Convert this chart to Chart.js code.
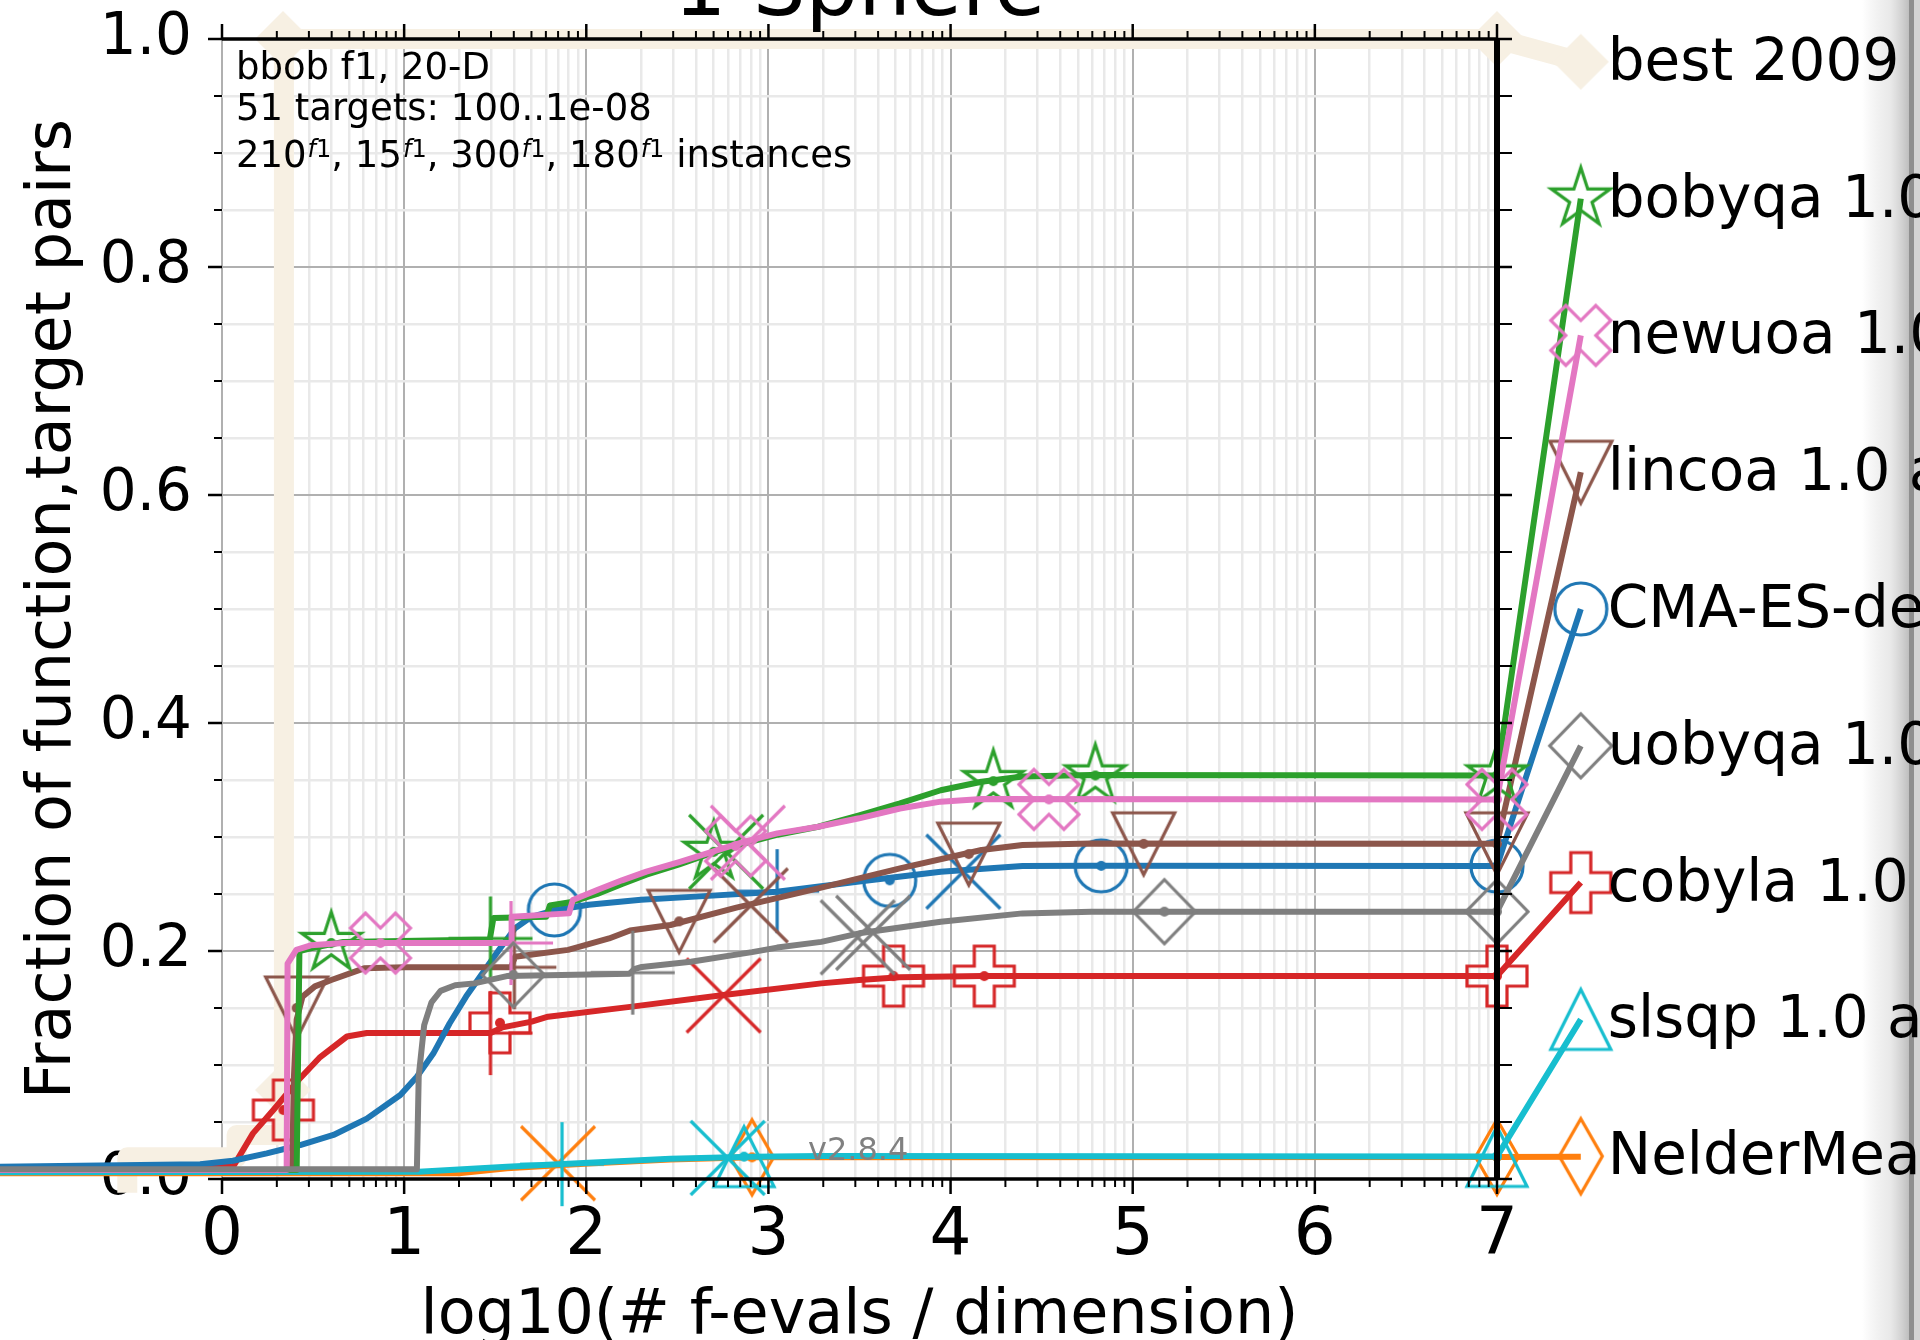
<!DOCTYPE html>
<html>
<head>
<meta charset="utf-8">
<script src="https://cdn.jsdelivr.net/npm/chart.js@4.4.1/dist/chart.umd.min.js"></script>
<style>
  html, body { margin: 0; padding: 0; background: #fff; }
  #ecdf { display: block; }
</style>
</head>
<body>
<canvas id="ecdf" width="1920" height="1340"></canvas>
<script>
// ---- data (x = log10(#f-evals / dimension), y = fraction) ----
const labels = ['best 2009', 'bobyqa 1.0 a', 'newuoa 1.0 a', 'lincoa 1.0 a', 'CMA-ES-default',
                'uobyqa 1.0 a', 'cobyla 1.0 a', 'slsqp 1.0 a', 'NelderMead 1.0 a'];
const legendX = 7.46;
const legendY = [0.98, 0.86, 0.74, 0.62, 0.50, 0.38, 0.26, 0.14, 0.02];

const bestX = [-0.52, -0.52, 0.08, 0.08, 0.34, 0.34, 7.0, legendX];
const bestY = [-0.012, 0.019, 0.019, 0.0386, 0.0386, 1.0, 1.0, 0.98];
const bestMarkX = [0.335, 0.335, 7.0];
const bestMarkY = [0.078, 1.0, 1.0];

const bobyqaX = [-1.3, 0.41, 0.425, 0.487, 0.666, 1.47, 1.49, 1.78, 1.80, 1.92, 2.06, 2.2, 2.33, 2.51, 2.69, 2.87, 3.05, 3.273, 3.498, 3.722, 3.946, 4.17, 4.395, 4.77, 7.0, legendX];
const bobyqaY = [0.008, 0.008, 0.2, 0.2023, 0.208, 0.21, 0.229, 0.23, 0.24, 0.243, 0.25, 0.259, 0.267, 0.276, 0.286, 0.2944, 0.302, 0.309, 0.319, 0.3295, 0.341, 0.3485, 0.353, 0.3544, 0.354, 0.86];
const bobyqaMarkX = [0.60, 2.70, 4.235, 4.795, 7.0];
const bobyqaMarkY = [0.207, 0.287, 0.349, 0.354, 0.354];
const bobyqaCrossX = [2.768], bobyqaCrossY = [0.287];
const bobyqaPlusX = [1.474], bobyqaPlusY = [0.211];

const newuoaX = [-1.3, 0.355, 0.36, 0.408, 0.487, 0.666, 1.587, 1.59, 1.905, 1.926, 2.06, 2.196, 2.33, 2.51, 2.69, 2.869, 3.048, 3.273, 3.498, 3.722, 3.946, 4.17, 7.0, legendX];
const newuoaY = [0.008, 0.008, 0.189, 0.2009, 0.205, 0.207, 0.207, 0.23, 0.233, 0.2447, 0.2535, 0.262, 0.2696, 0.278, 0.287, 0.296, 0.3032, 0.309, 0.3164, 0.325, 0.331, 0.3333, 0.333, 0.74];
const newuoaMarkX = [0.87, 2.82, 4.54, 7.0];
const newuoaMarkY = [0.207, 0.292, 0.333, 0.333];
const newuoaCrossX = [2.887], newuoaCrossY = [0.295];
const newuoaPlusX = [1.587], newuoaPlusY = [0.207];

const lincoaX = [-1.3, 0.385, 0.395, 0.41, 0.442, 0.51, 0.6, 0.78, 1.0, 1.587, 1.609, 1.90, 1.93, 2.125, 2.24, 2.462, 2.824, 3.273, 3.722, 4.17, 4.395, 4.772, 7.0, legendX];
const lincoaY = [0.008, 0.008, 0.09, 0.14, 0.16, 0.169, 0.1746, 0.1848, 0.1857, 0.1857, 0.195, 0.201, 0.2023, 0.211, 0.218, 0.2228, 0.238, 0.255, 0.2725, 0.2886, 0.293, 0.2944, 0.294, 0.62];
const lincoaMarkX = [0.41, 2.51, 4.10, 5.06, 7.0];
const lincoaMarkY = [0.15, 0.226, 0.285, 0.294, 0.294];
const lincoaCrossX = [2.903], lincoaCrossY = [0.240];
const lincoaPlusX = [1.605], lincoaPlusY = [0.1857];

const cmaX = [-1.3, -0.12, 0.06, 0.246, 0.429, 0.612, 0.795, 0.979, 1.07, 1.16, 1.25, 1.34, 1.43, 1.52, 1.609, 1.699, 1.833, 2.013, 2.3, 2.6, 3.048, 3.498, 3.946, 4.395, 4.77, 7.0, legendX];
const cmaY = [0.0105, 0.013, 0.016, 0.0225, 0.0298, 0.0386, 0.053, 0.0737, 0.0897, 0.110, 0.1366, 0.160, 0.1804, 0.2009, 0.22, 0.230, 0.236, 0.2405, 0.245, 0.2477, 0.252, 0.261, 0.2696, 0.2745, 0.2748, 0.2745, 0.50];
const cmaMarkX = [1.825, 3.666, 4.827, 7.0];
const cmaMarkY = [0.236, 0.262, 0.2747, 0.2745];
const cmaCrossX = [4.07], cmaCrossY = [0.2696];
const cmaPlusX = [3.048], cmaPlusY = [0.2525];

const uobyqaX = [-1.3, 1.07, 1.08, 1.11, 1.15, 1.2, 1.28, 1.385, 1.564, 2.237, 2.263, 2.305, 2.574, 2.91, 3.048, 3.29, 3.498, 3.946, 4.395, 4.772, 7.0, legendX];
const uobyqaY = [0.0085, 0.0085, 0.09, 0.135, 0.155, 0.165, 0.17, 0.1716, 0.178, 0.18, 0.184, 0.186, 0.1906, 0.199, 0.203, 0.208, 0.2155, 0.2257, 0.233, 0.2345, 0.2345, 0.38];
const uobyqaMarkX = [1.60, 5.174, 7.0];
const uobyqaMarkY = [0.179, 0.2345, 0.2345];
const uobyqaCrossX = [3.49, 3.575], uobyqaCrossY = [0.212, 0.216];
const uobyqaPlusX = [2.255], uobyqaPlusY = [0.181];

const cobylaX = [-1.3, 0.06, 0.17, 0.282, 0.42, 0.539, 0.686, 0.795, 1.474, 1.54, 1.70, 1.79, 2.24, 2.754, 3.29, 3.498, 3.72, 4.17, 7.0, legendX];
const cobylaY = [0.0105, 0.0105, 0.040, 0.0605, 0.0868, 0.107, 0.125, 0.128, 0.128, 0.133, 0.138, 0.1424, 0.151, 0.1614, 0.1716, 0.1746, 0.177, 0.178, 0.178, 0.26];
const cobylaMarkX = [0.337, 1.526, 3.687, 4.185, 7.0];
const cobylaMarkY = [0.0605, 0.137, 0.178, 0.178, 0.178];
const cobylaCrossX = [2.754], cobylaCrossY = [0.161];
const cobylaPlusX = [1.474], cobylaPlusY = [0.128];

const slsqpX = [-1.3, 1.082, 1.564, 2.013, 2.462, 2.91, 3.29, 7.0, legendX];
const slsqpY = [0.006, 0.0064, 0.0108, 0.0143, 0.0178, 0.0196, 0.0202, 0.0198, 0.14];
const slsqpMarkX = [2.866, 7.0];
const slsqpMarkY = [0.0196, 0.0198];
const slsqpCrossX = [2.776], slsqpCrossY = [0.0185];
const slsqpPlusX = [1.867], slsqpPlusY = [0.013];

const nelderX = [-1.3, 1.3, 1.564, 2.013, 2.462, 2.91, 7.0, legendX];
const nelderY = [0.005, 0.005, 0.0095, 0.0135, 0.0172, 0.019, 0.0194, 0.0196];
const nelderMarkX = [2.91, 7.0];
const nelderMarkY = [0.019, 0.0194];
const nelderCrossX = [1.845], nelderCrossY = [0.0138];
const nelderPlusX = [], nelderPlusY = [];

// ticks
const xTickVals = [];
for (let d = 0; d < 7; d++) {
  xTickVals.push(d);
  for (let k = 2; k <= 9; k++) xTickVals.push(d + Math.log10(k));
}
xTickVals.push(7);
const yTickVals = [];
for (let k = 0; k <= 20; k++) yTickVals.push(k * 5 / 100);

const isMajorX = v => Math.abs(v - Math.round(v)) < 1e-9;
const isMajorY = v => Math.round(v * 20) % 4 === 0;

// ---- markers ----
function makeMarker(kind, color, dot) {
  const c = document.createElement('canvas');
  c.width = 100; c.height = 100;
  const g = c.getContext('2d');
  g.translate(50, 50);
  g.strokeStyle = color; g.fillStyle = color; g.lineWidth = 3.2; g.lineJoin = 'miter';
  const poly = pts => {
    g.beginPath();
    pts.forEach(([x, y], i) => i ? g.lineTo(x, y) : g.moveTo(x, y));
    g.closePath();
  };
  const plusPts = s => [[-1,-3],[1,-3],[1,-1],[3,-1],[3,1],[1,1],[1,3],[-1,3],[-1,1],[-3,1],[-3,-1],[-1,-1]]
    .map(([x, y]) => [x * s, y * s]);
  if (kind === 'star') {
    const p = [];
    for (let i = 0; i < 10; i++) {
      const r = i % 2 ? 11.8 : 31;
      const a = -Math.PI / 2 + i * Math.PI / 5;
      p.push([r * Math.cos(a), r * Math.sin(a)]);
    }
    poly(p); g.stroke();
  } else if (kind === 'fatx') {
    const k = Math.SQRT1_2;
    poly(plusPts(10.6).map(([x, y]) => [(x - y) * k, (x + y) * k])); g.stroke();
  } else if (kind === 'fatplus') {
    poly(plusPts(10)); g.stroke();
  } else if (kind === 'tridown') {
    poly([[0, 31], [-31, -31], [31, -31]]); g.stroke();
  } else if (kind === 'triup') {
    poly([[0, -30], [-30, 30], [30, 30]]); g.stroke();
  } else if (kind === 'circle') {
    g.beginPath(); g.arc(0, 0, 26, 0, Math.PI * 2); g.stroke();
  } else if (kind === 'diamond') {
    poly([[0, -32], [31, 0], [0, 32], [-31, 0]]); g.stroke();
  } else if (kind === 'thindiamond') {
    poly([[0, -37.5], [21.5, 0], [0, 37.5], [-21.5, 0]]); g.stroke();
  } else if (kind === 'bestdiamond') {
    poly([[0, -28], [28, 0], [0, 28], [-28, 0]]); g.fill();
  } else if (kind === 'x') {
    g.beginPath(); g.moveTo(-37, -37); g.lineTo(37, 37); g.moveTo(-37, 37); g.lineTo(37, -37); g.stroke();
  } else if (kind === 'plus') {
    g.beginPath(); g.moveTo(-42, 0); g.lineTo(42, 0); g.moveTo(0, -42); g.lineTo(0, 42); g.stroke();
  }
  if (dot) { g.beginPath(); g.arc(0, 0, 5, 0, Math.PI * 2); g.fill(); }
  return c;
}

const zip = (xs, ys) => xs.map((x, i) => ({ x, y: ys[i] }));

// bottom -> top drawing sequence
const series = [
  { color: '#ff7f0e', shape: 'thindiamond', li: 8, x: nelderX, y: nelderY, mx: nelderMarkX, my: nelderMarkY, cx: nelderCrossX, cy: nelderCrossY, px: nelderPlusX, py: nelderPlusY },
  { color: '#17becf', shape: 'triup', li: 7, x: slsqpX, y: slsqpY, mx: slsqpMarkX, my: slsqpMarkY, cx: slsqpCrossX, cy: slsqpCrossY, px: slsqpPlusX, py: slsqpPlusY },
  { color: '#d62728', shape: 'fatplus', li: 6, x: cobylaX, y: cobylaY, mx: cobylaMarkX, my: cobylaMarkY, cx: cobylaCrossX, cy: cobylaCrossY, px: cobylaPlusX, py: cobylaPlusY },
  { color: '#1f77b4', shape: 'circle', li: 4, x: cmaX, y: cmaY, mx: cmaMarkX, my: cmaMarkY, cx: cmaCrossX, cy: cmaCrossY, px: cmaPlusX, py: cmaPlusY },
  { color: '#8c564b', shape: 'tridown', li: 3, x: lincoaX, y: lincoaY, mx: lincoaMarkX, my: lincoaMarkY, cx: lincoaCrossX, cy: lincoaCrossY, px: lincoaPlusX, py: lincoaPlusY },
  { color: '#2ca02c', shape: 'star', li: 1, x: bobyqaX, y: bobyqaY, mx: bobyqaMarkX, my: bobyqaMarkY, cx: bobyqaCrossX, cy: bobyqaCrossY, px: bobyqaPlusX, py: bobyqaPlusY },
  { color: '#e377c2', shape: 'fatx', li: 2, x: newuoaX, y: newuoaY, mx: newuoaMarkX, my: newuoaMarkY, cx: newuoaCrossX, cy: newuoaCrossY, px: newuoaPlusX, py: newuoaPlusY },
  { color: '#7f7f7f', shape: 'diamond', li: 5, x: uobyqaX, y: uobyqaY, mx: uobyqaMarkX, my: uobyqaMarkY, cx: uobyqaCrossX, cy: uobyqaCrossY, px: uobyqaPlusX, py: uobyqaPlusY }
];

const BEST = '#f7f0e3';
const datasets = [];
datasets.push({
  data: zip(bestX, bestY), showLine: true, borderColor: BEST, borderWidth: 20,
  pointRadius: 0, borderJoinStyle: 'round', clip: false
});
const bestStyle = makeMarker('bestdiamond', BEST, false);
datasets.push({
  data: zip(bestMarkX.concat([legendX]), bestMarkY.concat([legendY[0]])), showLine: false,
  pointStyle: bestStyle, pointRadius: 120, clip: false
});

series.forEach(s => {
  datasets.push({
    data: zip(s.x, s.y), showLine: true, borderColor: s.color, borderWidth: 6,
    pointRadius: 0, borderJoinStyle: 'round', clip: false
  });
  const onCurve = makeMarker(s.shape, s.color, true);
  const inLegend = makeMarker(s.shape, s.color, false);
  const cross = makeMarker('x', s.color, false);
  const plus = makeMarker('plus', s.color, false);
  const pts = [], styles = [];
  zip(s.mx, s.my).forEach(p => { pts.push(p); styles.push(onCurve); });
  pts.push({ x: legendX, y: legendY[s.li] }); styles.push(inLegend);
  zip(s.cx, s.cy).forEach(p => { pts.push(p); styles.push(cross); });
  zip(s.px, s.py).forEach(p => { pts.push(p); styles.push(plus); });
  datasets.push({ data: pts, showLine: false, pointStyle: styles, pointRadius: 120, clip: false });
});
datasets.forEach((d, i) => { d.order = datasets.length - i; });

const FONT = '"DejaVu Sans"';

const decor = {
  id: 'decor',
  beforeDraw(chart) {
    const ctx = chart.ctx;
    ctx.save();
    ctx.fillStyle = '#fff';
    ctx.fillRect(0, 0, chart.width, chart.height);
    const gr = ctx.createLinearGradient(1862, 0, 1909, 0);
    gr.addColorStop(0, 'rgba(205,205,205,0)');
    gr.addColorStop(0.6, 'rgba(215,215,215,0.55)');
    gr.addColorStop(1, 'rgb(190,190,190)');
    ctx.fillStyle = gr;
    ctx.fillRect(1862, 0, 47, chart.height);
    ctx.fillStyle = '#8f8f8f';
    ctx.fillRect(1909, 0, 5, chart.height);
    ctx.fillStyle = '#d4d4d4';
    ctx.fillRect(1914, 0, 6, chart.height);
    ctx.restore();
  },
  afterDatasetsDraw(chart) {
    const ctx = chart.ctx;
    const xs = chart.scales.x, ys = chart.scales.y;
    const L = xs.getPixelForValue(0), R = xs.getPixelForValue(7);
    const T = ys.getPixelForValue(1), B = ys.getPixelForValue(0);
    const seg = (x1, y1, x2, y2) => { ctx.beginPath(); ctx.moveTo(x1, y1); ctx.lineTo(x2, y2); ctx.stroke(); };
    ctx.save();
    ctx.strokeStyle = '#000';
    xTickVals.forEach(v => {
      const p = xs.getPixelForValue(v);
      const major = isMajorX(v);
      const len = major ? 15 : 8;
      ctx.lineWidth = major ? 2.5 : 2;
      seg(p, B, p, B + len);
      seg(p, T, p, T - len);
    });
    yTickVals.forEach(v => {
      const p = ys.getPixelForValue(v);
      const major = isMajorY(v);
      ctx.lineWidth = major ? 2.5 : 2;
      seg(L - (major ? 14 : 8), p, L, p);
      seg(R, p, R + 15, p);
    });
    ctx.lineWidth = 3.5;
    seg(L, T, R, T);
    seg(L, B, R, B);
    ctx.lineWidth = 6;
    seg(R, T, R, B);

    ctx.fillStyle = '#000';
    // title (partly above the canvas)
    ctx.font = '83px ' + FONT;
    ctx.textAlign = 'center';
    ctx.textBaseline = 'alphabetic';
    ctx.fillText('1 Sphere', (L + R) / 2, 15);
    // axis titles
    ctx.font = '62px ' + FONT;
    ctx.fillText('log10(# f-evals / dimension)', (L + R) / 2, 1333);
    ctx.save();
    ctx.translate(70, (T + B) / 2);
    ctx.rotate(-Math.PI / 2);
    ctx.fillText('Fraction of function,target pairs', 0, 0);
    ctx.restore();

    // annotation
    ctx.textAlign = 'left';
    ctx.font = '37px ' + FONT;
    ctx.fillText('bbob f1, 20-D', 236, 79);
    ctx.fillText('51 targets: 100..1e-08', 236, 120);
    let x = 236;
    const base = 167;
    [['210', true], [', 15', true], [', 300', true], [', 180', true], [' instances', false]].forEach(([t, sup]) => {
      ctx.font = '37px ' + FONT;
      ctx.fillText(t, x, base);
      x += ctx.measureText(t).width;
      if (sup) {
        ctx.font = 'italic 24px ' + FONT;
        ctx.fillText('f', x + 1, base - 10);
        x += ctx.measureText('f').width + 1;
        ctx.font = '24px ' + FONT;
        ctx.fillText('1', x, base - 10);
        x += ctx.measureText('1').width;
      }
    });

    // version tag
    ctx.fillStyle = '#808080';
    ctx.font = '32px ' + FONT;
    ctx.fillText('v2.8.4', 808, 1160);

    // legend labels
    ctx.fillStyle = '#000';
    ctx.font = '58px ' + FONT;
    const lx = xs.getPixelForValue(legendX) + 27;
    labels.forEach((t, i) => {
      ctx.fillText(t, lx, ys.getPixelForValue(legendY[i]) + 18);
    });
    ctx.restore();
  }
};

new Chart(document.getElementById('ecdf'), {
  type: 'scatter',
  data: { datasets },
  options: {
    responsive: false,
    animation: false,
    events: [],
    layout: { autoPadding: false, padding: { left: 0, right: 423, top: 39, bottom: 0 } },
    plugins: { legend: { display: false }, tooltip: { enabled: false } },
    scales: {
      x: {
        type: 'linear',
        bounds: 'data',
        afterDataLimits: s => { s.min = 0; s.max = 7; },
        afterBuildTicks: s => { s.ticks = xTickVals.map(v => ({ value: v })); s.min = 0; s.max = 7; },
        afterFit: s => { s.height = 161; s.paddingLeft = 0; s.paddingRight = 0; },
        border: { display: false },
        grid: {
          drawTicks: false,
          color: c => isMajorX(c.tick.value) ? '#b0b0b0' : '#e9e9e9',
          lineWidth: c => isMajorX(c.tick.value) ? 2 : 2.5
        },
        ticks: {
          autoSkip: false, maxRotation: 0, padding: 25, color: '#000',
          font: { family: 'DejaVu Sans', size: 66, lineHeight: 1 },
          callback: v => isMajorX(v) ? String(Math.round(v)) : ''
        }
      },
      y: {
        type: 'linear',
        bounds: 'data',
        afterDataLimits: s => { s.min = 0; s.max = 1; },
        afterBuildTicks: s => { s.ticks = yTickVals.map(v => ({ value: v })); s.min = 0; s.max = 1; },
        afterFit: s => { s.width = 222; s.paddingTop = 0; s.paddingBottom = 0; },
        border: { display: false },
        grid: {
          drawTicks: false,
          color: c => isMajorY(c.tick.value) ? '#b0b0b0' : '#e9e9e9',
          lineWidth: c => isMajorY(c.tick.value) ? 2 : 2.5
        },
        ticks: {
          autoSkip: false, padding: 30, color: '#000',
          font: { family: 'DejaVu Sans', size: 58, lineHeight: 1 },
          callback: v => isMajorY(v) ? v.toFixed(1) : ''
        }
      }
    }
  },
  plugins: [decor]
});
</script>
</body>
</html>
